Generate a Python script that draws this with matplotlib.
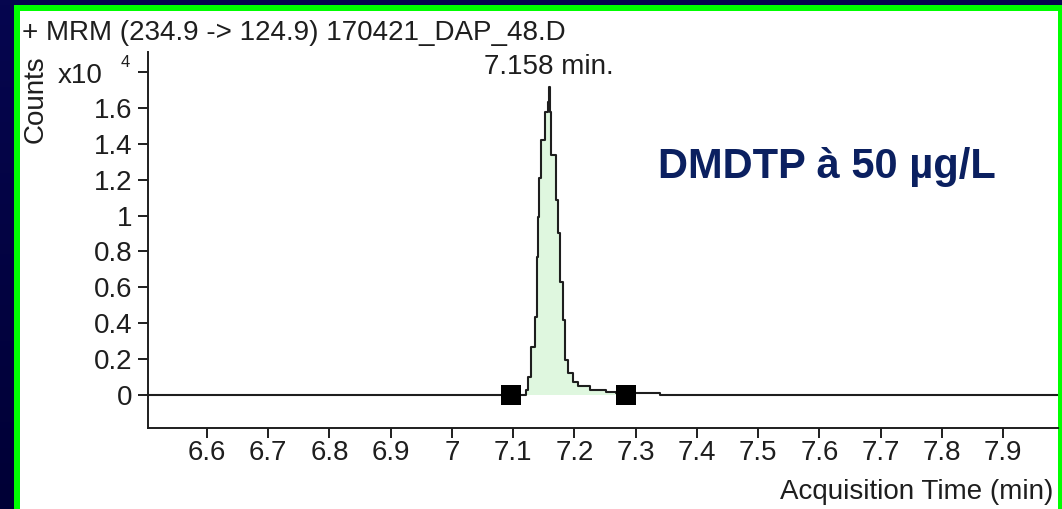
import numpy as np
import matplotlib
matplotlib.use("Agg")
import matplotlib.pyplot as plt
from matplotlib.patches import Rectangle

plt.rcParams['font.family'] = ['Liberation Sans', 'DejaVu Sans']

# chromatogram trace (step transitions), time in min, counts
times = [6.50, 7.1204, 7.1242, 7.1297, 7.1351, 7.1389, 7.1405, 7.1421, 7.1460,
         7.1514, 7.1568, 7.1590, 7.1605, 7.1623, 7.1693, 7.1731, 7.1759, 7.1813,
         7.1852, 7.1895, 7.1977, 7.2058, 7.2248, 7.2521, 7.2684, 7.3390, 7.99]
counts = [0, 280, 1020, 2690, 4360, 7700, 9930, 12070, 14210,
          15780, 16340, 17180, 15780, 13370, 10860, 9010, 6310, 4180,
          1950, 1210, 740, 500, 280, 180, 120, 0, 0]

peak_rt = 7.158
peak_top = 17180
int_start = 7.097
int_end = 7.285

xticks = [6.6, 6.7, 6.8, 6.9, 7.0, 7.1, 7.2, 7.3, 7.4, 7.5, 7.6, 7.7, 7.8, 7.9]
xticklabels = ["6.6", "6.7", "6.8", "6.9", "7", "7.1", "7.2", "7.3", "7.4",
               "7.5", "7.6", "7.7", "7.8", "7.9"]
yticks = [0, 2000, 4000, 6000, 8000, 10000, 12000, 14000, 16000, 18000]
yticklabels = ["0", "0.2", "0.4", "0.6", "0.8", "1", "1.2", "1.4", "1.6", ""]

title = "+ MRM (234.9 -> 124.9) 170421_DAP_48.D"
note = "DMDTP \u00e0 50 \u00b5g/L"

W, H = 1062, 509
fig = plt.figure(figsize=(W / 100, H / 100), dpi=100)

# background: navy gradient, green frame, white panel
bg = fig.add_axes([0, 0, 1, 1])
bg.set_xlim(0, W)
bg.set_ylim(H, 0)
bg.axis('off')
grad = np.linspace(0, 1, 100).reshape(-1, 1)
navy = matplotlib.colors.LinearSegmentedColormap.from_list('navy', ['#06064f', '#000036'])
bg.imshow(grad, cmap=navy, aspect='auto', extent=(0, W, H, 0))
bg.add_patch(Rectangle((14, 5), W - 14, H - 5, color='#00ff00', lw=0))
bg.add_patch(Rectangle((20, 11), 1038, H - 11, color='white', lw=0))

ink = '#1e1e1e'
ax = fig.add_axes([148 / W, 1 - 428 / H, (1058 - 148) / W, (428 - 52) / H])
ax.patch.set_alpha(0)

ax.fill_between(times, counts, 0, step='post', color='#dff7df', lw=0,
                where=[int_start <= t <= int_end for t in times])
ax.plot(times, counts, drawstyle='steps-post', color=ink, lw=1.5)
ax.plot([int_start, int_end], [0, 0], 's', color='black', ms=14, mew=0)

ax.set_xlim(6.5036, 7.9898)
ax.set_ylim(-1838, 19110)
ax.set_xticks(xticks)
ax.set_xticklabels(xticklabels)
ax.set_yticks(yticks)
ax.set_yticklabels(yticklabels)
ax.tick_params(axis='both', length=7, width=1.4, color=ink, labelsize=20, labelcolor=ink)
ax.tick_params(axis='y', pad=4)
ax.tick_params(axis='x', pad=1.5)
for s in ['top', 'right']:
    ax.spines[s].set_visible(False)
for s in ['left', 'bottom']:
    ax.spines[s].set_linewidth(1.4)
    ax.spines[s].set_color(ink)

ax.annotate("7.158 min.", (peak_rt, peak_top), xytext=(0, 9), textcoords='offset points',
            ha='center', va='baseline', fontsize=20, color=ink)

fig.text(22 / W, 1 - 40 / H, title, fontsize=20, color=ink, va='baseline')
fig.text(36 / W, 1 - 99 / H, "Counts", rotation=90, fontsize=20, color=ink,
         ha='center', va='center')
fig.text(103 / W, 1 - 83 / H, "x10", fontsize=20, color=ink, ha='right', va='baseline')
fig.text(130 / W, 1 - 67 / H, "4", fontsize=12, color=ink, ha='right', va='baseline')
fig.text(1053 / W, 1 - 499 / H, "Acquisition Time (min)", fontsize=20, color=ink,
         ha='right', va='baseline')
fig.text(658 / W, 1 - 167 / H, note, fontsize=30, fontweight='bold', color='#0b2060',
         ha='left', va='center')

fig.savefig("out.png", dpi=100)
